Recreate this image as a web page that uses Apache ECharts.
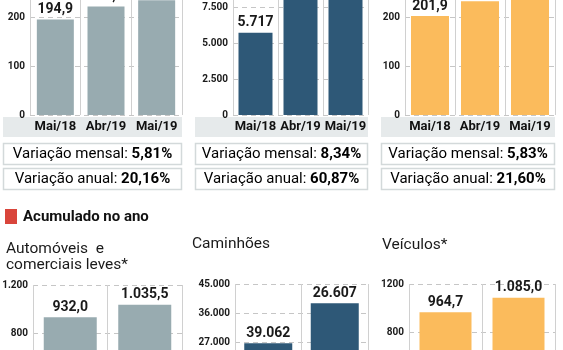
<!DOCTYPE html>
<html>
<head>
<meta charset="utf-8">
<script src="https://cdn.jsdelivr.net/npm/echarts@6/dist/echarts.min.js"></script>
<style>
html, body { margin: 0; padding: 0; background: #fff; }
#chart { width: 563px; height: 350px; }
</style>
</head>
<body>
<div id="chart"></div>
<script>
// dados mensais
var mesesMensal = ['Mai/18', 'Abr/19', 'Mai/19'];
var autosMensal = [194.9, 221.3, 234.2];
var caminhoesMensal = [5717, 8489, 9197];
var veiculosMensal = [201.9, 232.0, 245.5];
var autosMensalTxt = ['194,9', '221,3', '234,2'];
var caminhoesMensalTxt = ['5.717', '8.489', '9.197'];
var veiculosMensalTxt = ['201,9', '232,0', '245,5'];
var varMensal = ['5,81%', '8,34%', '5,83%'];
var varAnual = ['20,16%', '60,87%', '21,60%'];

// acumulado no ano
var anos = ['2018', '2019'];
var autosAno = [932.0, 1035.5];
var caminhoesAno = [26607, 39062];
var veiculosAno = [964.7, 1085.0];
var autosAnoTxt = ['932,0', '1.035,5'];
var caminhoesAnoTxt = ['39.062', '26.607'];   // rótulos trocados como no original
var veiculosAnoTxt = ['964,7', '1.085,0'];
var titulos = ['Automóveis  e\ncomerciais leves*', 'Caminhões', 'Veículos*'];

var cores = ['#98abb0', '#2e5877', '#fbbb5c'];
var fonte = 'Roboto';

function milhar(v) {
    return String(v).replace(/\B(?=(\d{3})+(?!\d))/g, '.');
}
function simples(v) { return String(v); }

function grade(l, w, t, h) {
    return {left: l, width: w, top: t, height: h, containLabel: false, outerBoundsMode: 'none'};
}
function eixoY(idx, max, intervalo, fmt) {
    return {
        gridIndex: idx, type: 'value', min: 0, max: max, interval: intervalo,
        axisLine: {show: false}, axisTick: {show: false},
        axisLabel: {color: '#1a1a1a', fontWeight: 'bold', fontSize: 10, fontFamily: fonte, margin: 5, formatter: fmt},
        splitLine: {lineStyle: {color: '#c6c6c6', type: [5, 4], width: 1}}
    };
}
function eixoX(idx, cats, mostra) {
    return {
        gridIndex: idx, type: 'category', data: cats,
        axisLine: {show: false}, axisTick: {show: false},
        axisLabel: {show: mostra, interval: 0, color: '#111', fontWeight: 'bold', fontSize: 13, fontFamily: fonte, margin: 5},
        splitLine: {show: true, interval: 0, lineStyle: {color: '#d0d0d0', width: 1}}
    };
}
function barras(idx, valores, textos, cor, largura) {
    return {
        type: 'bar', xAxisIndex: idx, yAxisIndex: idx, data: valores, barWidth: largura,
        itemStyle: {color: cor},
        label: {
            show: true, position: 'top', distance: 3, color: '#1a1a1a',
            fontWeight: 'bold', fontSize: 14, fontFamily: fonte,
            formatter: function (p) { return textos[p.dataIndex]; }
        }
    };
}

// faixas, caixas e textos
var graficos = [];
var faixas = [[3, 182], [195, 368], [381, 555]];
for (var i = 0; i < 3; i++) {
    var x0 = faixas[i][0], w = faixas[i][1] - faixas[i][0];
    graficos.push({type: 'rect', z: -10, shape: {x: x0, y: 117, width: w, height: 20}, style: {fill: '#e6eaeb'}});
    var linhas = [['Variação mensal: ', varMensal[i], 143], ['Variação anual: ', varAnual[i], 168]];
    for (var j = 0; j < 2; j++) {
        graficos.push({type: 'rect', z: 5, shape: {x: x0 + 0.5, y: linhas[j][2] + 0.5, width: w - 1, height: 21},
            style: {fill: '#fff', stroke: '#d3d9da', lineWidth: 1.5}});
        graficos.push({type: 'text', z: 6, style: {
            x: x0 + w / 2, y: linhas[j][2] + 11.5, align: 'center', verticalAlign: 'middle',
            text: '{a|' + linhas[j][0] + '}{b|' + linhas[j][1] + '}',
            rich: {
                a: {fontSize: 15, fontFamily: fonte, color: '#333'},
                b: {fontSize: 15, fontFamily: fonte, fontWeight: 'bold', color: '#111'}
            }
        }});
    }
}
graficos.push({type: 'rect', shape: {x: 5, y: 209, width: 12, height: 15}, style: {fill: '#d9453b'}});
graficos.push({type: 'text', style: {x: 23, y: 217, verticalAlign: 'middle', text: 'Acumulado no ano',
    font: 'bold 15px ' + fonte, fill: '#111'}});
graficos.push({type: 'text', style: {x: 6, y: 241, verticalAlign: 'top', text: titulos[0], lineHeight: 16,
    font: '15.5px ' + fonte, fill: '#1a1a1a'}});
graficos.push({type: 'text', style: {x: 192, y: 244, verticalAlign: 'middle', text: titulos[1],
    font: '15.5px ' + fonte, fill: '#1a1a1a'}});
graficos.push({type: 'text', style: {x: 382, y: 245, verticalAlign: 'middle', text: titulos[2],
    font: '15.5px ' + fonte, fill: '#1a1a1a'}});

var e = echarts.init(document.getElementById('chart'));
var option = {
    animation: false,
    backgroundColor: '#fff',
    grid: [
        grade(30, 152, -32, 147),
        grade(233, 135, -29, 144),
        grade(405, 150, -32, 147),
        grade(33, 149, 285, 144),
        grade(235, 133, 284, 145),
        grade(409, 146, 284, 144)
    ],
    xAxis: [
        eixoX(0, mesesMensal, true),
        eixoX(1, mesesMensal, true),
        eixoX(2, mesesMensal, true),
        eixoX(3, anos, false),
        eixoX(4, anos, false),
        eixoX(5, anos, false)
    ],
    yAxis: [
        eixoY(0, 300, 100, simples),
        eixoY(1, 10000, 2500, milhar),
        eixoY(2, 300, 100, simples),
        eixoY(3, 1200, 400, milhar),
        eixoY(4, 45000, 9000, milhar),
        eixoY(5, 1200, 400, simples)
    ],
    series: [
        barras(0, autosMensal, autosMensalTxt, cores[0], 37),
        barras(1, caminhoesMensal, caminhoesMensalTxt, cores[1], 34),
        barras(2, veiculosMensal, veiculosMensalTxt, cores[2], 38),
        barras(3, autosAno, autosAnoTxt, cores[0], 53),
        barras(4, caminhoesAno, caminhoesAnoTxt, cores[1], 48),
        barras(5, veiculosAno, veiculosAnoTxt, cores[2], 52)
    ],
    graphic: graficos
};
e.setOption(option);
</script>
</body>
</html>
